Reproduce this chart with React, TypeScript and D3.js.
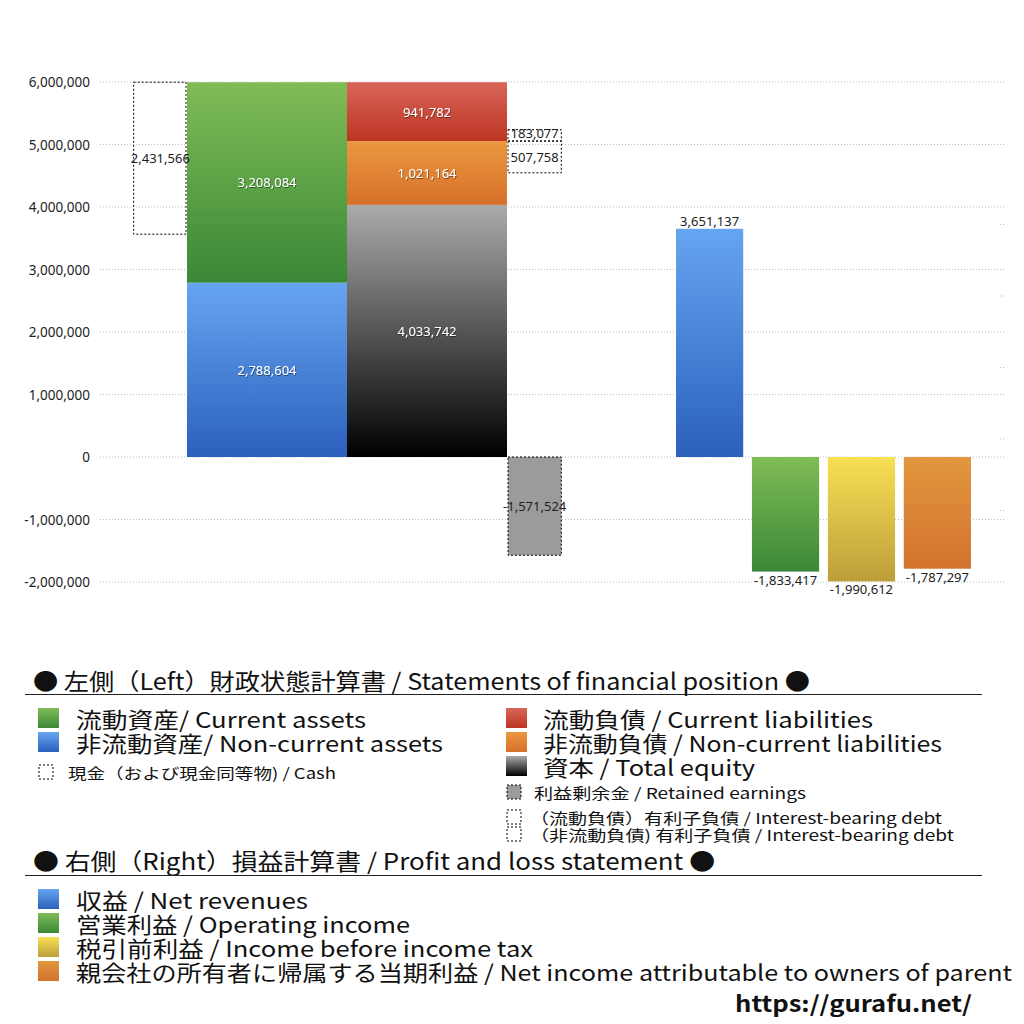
import React from "react";
import * as d3 from "d3";

// ---------- data ----------
const balanceColumns = ["資産", "負債・資本"];
const assetNames = ["非流動資産", "流動資産"]; // bottom -> top
const assetValues = [2788604, 3208084];
const liabilityNames = ["資本", "非流動負債", "流動負債"]; // bottom -> top
const liabilityValues = [4033742, 1021164, 941782];
const cashValue = 2431566;
const debtCurrentValue = 183077;
const debtNonCurrentValue = 507758;
const retainedEarningsValue = -1571524;

const plCategories = ["収益", "営業利益", "税引前利益", "当期利益"];
const plValues = [3651137, -1833417, -1990612, -1787297];

const yTickValues = [-2000000, -1000000, 0, 1000000, 2000000, 3000000, 4000000, 5000000, 6000000];
const rightTickValues = [1, 2, 3, 4, 5];

const heading1 = "● 左側（Left）財政状態計算書 / Statements of financial position ●";
const heading2 = "● 右側（Right）損益計算書 / Profit and loss statement ●";
const assetLegend = ["流動資産/ Current assets", "非流動資産/ Non-current assets"];
const cashLegend = "現金（および現金同等物) / Cash";
const liabilityLegend = ["流動負債 /  Current liabilities", "非流動負債 / Non-current liabilities", "資本 / Total equity"];
const retainedLegend = "利益剰余金 / Retained earnings";
const debtLegend = ["（流動負債）有利子負債 / Interest-bearing debt", "（非流動負債) 有利子負債 / Interest-bearing debt"];
const plLegend = [
  "収益 / Net revenues",
  "営業利益 / Operating income",
  "税引前利益 / Income before income tax",
  "親会社の所有者に帰属する当期利益 / Net income attributable to owners of parent",
];
const siteUrl = "https://gurafu.net/";

// ---------- styles ----------
const gradients: Record<string, [string, string]> = {
  green: ["#80bc56", "#3a8837"],
  blue: ["#66a5f0", "#2b60bd"],
  red: ["#d8655a", "#bd3522"],
  orange: ["#eb983f", "#d6702a"],
  equity: ["#ababab", "#000000"],
  yellow: ["#f7e054", "#bc9e3a"],
  orange2: ["#e2973e", "#d2722e"],
};
const assetGrad = ["blue", "green"];
const liabilityGrad = ["equity", "orange", "red"];
const plGrad = ["blue", "green", "yellow", "orange2"];

const FONT = "'Noto Sans CJK JP', 'Noto Sans', sans-serif";
const NUMFONT = "'Noto Sans', 'Open Sans', sans-serif";
const fmt = d3
  .formatLocale({ decimal: ".", thousands: ",", grouping: [3], currency: ["", ""], minus: "-" })
  .format(",");

export default function App() {
  const y = d3.scaleLinear().domain([-2000000, 6000000]).range([582, 82]);
  const y2 = d3.scaleLinear().domain([0, 6]).range([582, 153]);
  const xBS = d3.scaleBand<string>().domain(balanceColumns).range([187, 507]).padding(0);
  const bw = xBS.bandwidth();
  const side = bw / 3;
  const xPL = d3.scaleBand<string>().domain(plCategories).range([672, 975]).paddingInner(0.115).paddingOuter(0.053);

  const assetX = xBS(balanceColumns[0])!;
  const liabX = xBS(balanceColumns[1])!;

  const assetStack = assetValues.map((v, i) => {
    const base = d3.sum(assetValues.slice(0, i));
    return { name: assetNames[i], v, y0: base, y1: base + v, g: assetGrad[i] };
  });
  const liabStack = liabilityValues.map((v, i) => {
    const base = d3.sum(liabilityValues.slice(0, i));
    return { name: liabilityNames[i], v, y0: base, y1: base + v, g: liabilityGrad[i] };
  });
  const total = d3.sum(assetValues);
  const currentLiabBottom = liabStack[2].y0;

  const dashed = { fill: "none", stroke: "#000", strokeWidth: 1, strokeDasharray: "2,2" } as const;
  const whiteLabel = {
    fill: "#fff",
    fontSize: 13,
    fontFamily: NUMFONT,
    textAnchor: "middle" as const,
    dominantBaseline: "central" as const,
    filter: "url(#shadow)",
  };
  const darkLabel = {
    fill: "#222",
    fontSize: 13,
    fontFamily: NUMFONT,
    textAnchor: "middle" as const,
    dominantBaseline: "central" as const,
  };

  const cashY0 = total - cashValue;
  const debtX = liabX + bw + 1;
  const debtW = side;

  const legendText = (x: number, yy: number, text: string, size: number, width: number, extra: any = {}) => (
    <text
      x={x}
      y={yy}
      fontSize={size}
      fontFamily={FONT}
      fill="#111"
      dominantBaseline="central"
      textLength={width}
      lengthAdjust="spacingAndGlyphs"
      {...extra}
    >
      {text}
    </text>
  );
  const swatch = (x: number, yy: number, g: string) => (
    <rect x={x} y={yy - 10} width={21} height={20} fill={`url(#g-${g})`} />
  );
  const smallDashed = (x: number, yy: number, fill = "none") => (
    <rect x={x} y={yy - 7} width={14} height={14} fill={fill} stroke="#000" strokeWidth={1} strokeDasharray="2,2" />
  );

  return (
    <svg
      width={1024}
      height={1024}
      style={{ position: "absolute", left: 0, top: 0, background: "#fff" }}
      xmlns="http://www.w3.org/2000/svg"
    >
      <defs>
        {Object.entries(gradients).map(([k, [a, b]]) => (
          <linearGradient key={k} id={`g-${k}`} x1="0" y1="0" x2="0" y2="1">
            <stop offset="0%" stopColor={a} />
            <stop offset="100%" stopColor={b} />
          </linearGradient>
        ))}
        <filter id="shadow" x="-20%" y="-50%" width="140%" height="200%">
          <feDropShadow dx="0.6" dy="0.8" stdDeviation="0.6" floodColor="#000" floodOpacity="0.55" />
        </filter>
      </defs>
      <rect x={0} y={0} width={1024} height={1024} fill="#fff" />

      {/* grid */}
      {yTickValues.map((t) => (
        <g key={t}>
          <line x1={100} x2={1005} y1={y(t)} y2={y(t)} stroke="#bdbdbd" strokeWidth={1} strokeDasharray="1,2" />
          <text x={90} y={y(t)} fontSize={13.5} fontFamily={NUMFONT} fill="#222" textAnchor="end" dominantBaseline="central">
            {fmt(t)}
          </text>
        </g>
      ))}
      {rightTickValues.map((t) => (
        <line key={t} x1={1000} x2={1006} y1={y2(t)} y2={y2(t)} stroke="#bdbdbd" strokeWidth={1} strokeDasharray="1,2" />
      ))}

      {/* assets */}
      {assetStack.map((s) => (
        <g key={s.name}>
          <rect x={assetX} y={y(s.y1)} width={bw} height={y(s.y0) - y(s.y1)} fill={`url(#g-${s.g})`} />
          <text x={assetX + bw / 2} y={(y(s.y0) + y(s.y1)) / 2} {...whiteLabel}>
            {fmt(s.v)}
          </text>
        </g>
      ))}
      {/* liabilities & equity */}
      {liabStack.map((s) => (
        <g key={s.name}>
          <rect x={liabX} y={y(s.y1)} width={bw} height={y(s.y0) - y(s.y1)} fill={`url(#g-${s.g})`} />
          <text x={liabX + bw / 2} y={(y(s.y0) + y(s.y1)) / 2} {...whiteLabel}>
            {fmt(s.v)}
          </text>
        </g>
      ))}

      {/* cash */}
      <rect x={assetX - side} y={y(total)} width={side - 1} height={y(cashY0) - y(total)} {...dashed} />
      <text x={assetX - side / 2} y={(y(total) + y(cashY0)) / 2} {...darkLabel}>
        {fmt(cashValue)}
      </text>

      {/* interest-bearing debt */}
      <rect
        x={debtX}
        y={y(currentLiabBottom + debtCurrentValue)}
        width={debtW}
        height={y(currentLiabBottom) - y(currentLiabBottom + debtCurrentValue)}
        {...dashed}
      />
      <text x={debtX + debtW / 2} y={(y(currentLiabBottom) + y(currentLiabBottom + debtCurrentValue)) / 2 - 2} {...darkLabel}>
        {fmt(debtCurrentValue)}
      </text>
      <rect
        x={debtX}
        y={y(currentLiabBottom)}
        width={debtW}
        height={y(currentLiabBottom - debtNonCurrentValue) - y(currentLiabBottom)}
        {...dashed}
      />
      <text x={debtX + debtW / 2} y={(y(currentLiabBottom) + y(currentLiabBottom - debtNonCurrentValue)) / 2} {...darkLabel}>
        {fmt(debtNonCurrentValue)}
      </text>

      {/* retained earnings */}
      <rect
        x={debtX}
        y={y(0)}
        width={debtW}
        height={y(retainedEarningsValue) - y(0)}
        fill="#9b9b9b"
        stroke="#000"
        strokeWidth={1}
        strokeDasharray="2,2"
      />
      <text x={debtX + debtW / 2} y={(y(0) + y(retainedEarningsValue)) / 2} {...darkLabel}>
        {fmt(retainedEarningsValue)}
      </text>

      {/* P&L */}
      {plValues.map((v, i) => {
        const x = xPL(plCategories[i])!;
        const w = xPL.bandwidth();
        const top = y(Math.max(0, v));
        const bottom = y(Math.min(0, v));
        return (
          <g key={plCategories[i]}>
            <rect x={x} y={top} width={w} height={bottom - top} fill={`url(#g-${plGrad[i]})`} />
            <text x={x + w / 2} y={v >= 0 ? top - 8 : bottom + 8} {...darkLabel}>
              {fmt(v)}
            </text>
          </g>
        );
      })}

      {/* legend: left */}
      {legendText(33, 680, heading1, 23, 777)}
      <line x1={25} x2={982} y1={694.5} y2={694.5} stroke="#222" strokeWidth={1} />
      {swatch(38, 718, "green")}
      {legendText(76, 718, assetLegend[0], 22, 290)}
      {swatch(38, 742, "blue")}
      {legendText(76, 742, assetLegend[1], 22, 367)}
      {smallDashed(39, 772)}
      {legendText(68, 772, cashLegend, 15, 268)}

      {swatch(506, 718, "red")}
      {legendText(543, 718, liabilityLegend[0], 22, 330)}
      {swatch(506, 742, "orange")}
      {legendText(543, 742, liabilityLegend[1], 22, 399)}
      {swatch(506, 766, "equity")}
      {legendText(543, 766, liabilityLegend[2], 22, 212)}
      {smallDashed(507, 792, "#9b9b9b")}
      {legendText(534, 792, retainedLegend, 15, 272)}
      {smallDashed(507, 817)}
      {legendText(530, 817, debtLegend[0], 15, 412)}
      {smallDashed(507, 834)}
      {legendText(530, 834, debtLegend[1], 15, 424)}

      {/* legend: right (P&L) */}
      {legendText(33, 860, heading2, 23, 682)}
      <line x1={25} x2={982} y1={875.5} y2={875.5} stroke="#222" strokeWidth={1} />
      {plLegend.map((l, i) => (
        <g key={l}>
          {swatch(38, 899 + i * 24, plGrad[i])}
          {legendText(76, 899 + i * 24, l, 22, [232, 334, 457, 936][i])}
        </g>
      ))}

      {legendText(735, 1002, siteUrl, 22, 237, { fontWeight: "bold" })}
    </svg>
  );
}
